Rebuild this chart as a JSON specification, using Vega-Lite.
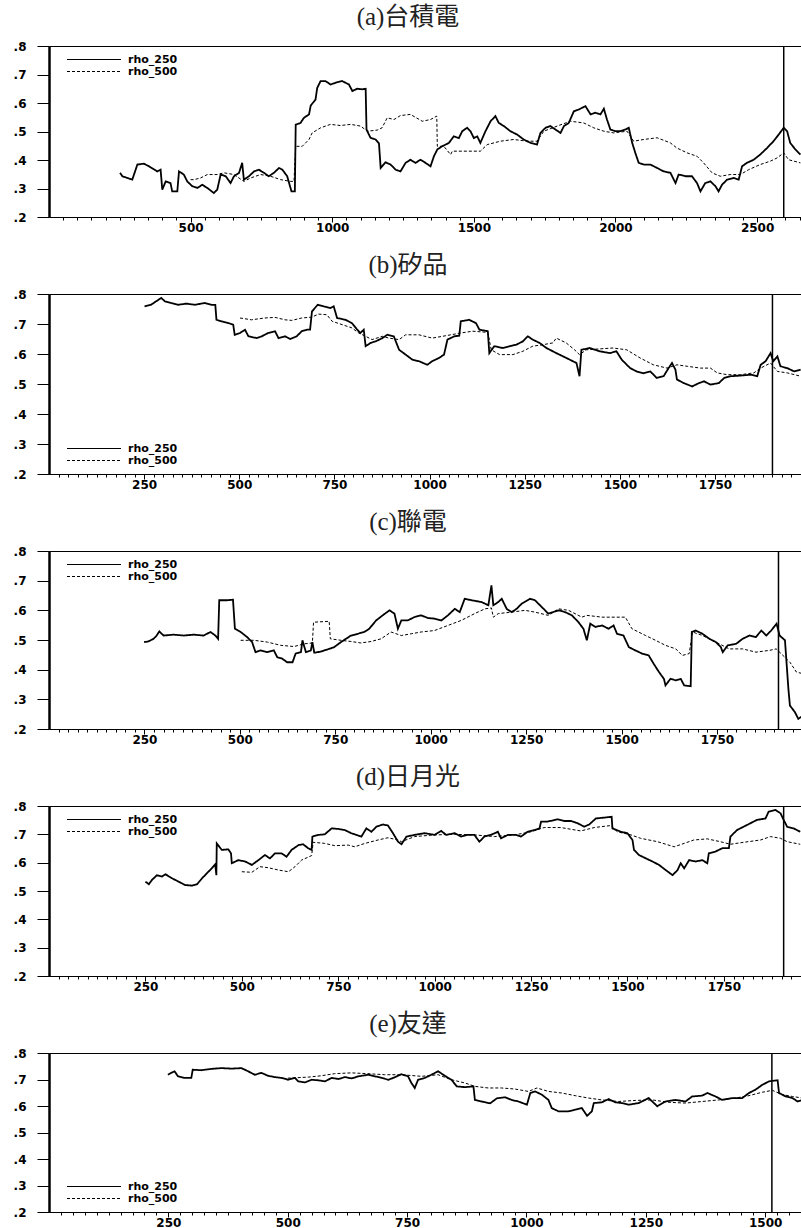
{
"$schema": "https://vega.github.io/schema/vega-lite/v6.json",
"padding": {"left": 0, "right": 0, "top": 4, "bottom": 0},
"spacing": 18,
"datasets": {
"vline": [{"p":"a","t":2594},{"p":"b","t":1901},{"p":"c","t":1911},{"p":"d","t":1905},{"p":"e","t":1514}],
"rho": [
{"p":"a","s":"rho_250","t":251,"v":0.355},{"p":"a","s":"rho_250","t":259,"v":0.343},{"p":"a","s":"rho_250","t":294,"v":0.331},{"p":"a","s":"rho_250","t":312,"v":0.384},{"p":"a","s":"rho_250","t":335,"v":0.387},{"p":"a","s":"rho_250","t":353,"v":0.378},{"p":"a","s":"rho_250","t":382,"v":0.36},{"p":"a","s":"rho_250","t":394,"v":0.366},{"p":"a","s":"rho_250","t":400,"v":0.296},{"p":"a","s":"rho_250","t":412,"v":0.325},{"p":"a","s":"rho_250","t":429,"v":0.319},{"p":"a","s":"rho_250","t":435,"v":0.29},{"p":"a","s":"rho_250","t":453,"v":0.29},{"p":"a","s":"rho_250","t":459,"v":0.36},{"p":"a","s":"rho_250","t":476,"v":0.349},{"p":"a","s":"rho_250","t":488,"v":0.325},{"p":"a","s":"rho_250","t":506,"v":0.308},{"p":"a","s":"rho_250","t":524,"v":0.302},{"p":"a","s":"rho_250","t":541,"v":0.313},{"p":"a","s":"rho_250","t":559,"v":0.302},{"p":"a","s":"rho_250","t":582,"v":0.284},{"p":"a","s":"rho_250","t":594,"v":0.296},{"p":"a","s":"rho_250","t":606,"v":0.349},{"p":"a","s":"rho_250","t":624,"v":0.343},{"p":"a","s":"rho_250","t":641,"v":0.319},{"p":"a","s":"rho_250","t":653,"v":0.343},{"p":"a","s":"rho_250","t":671,"v":0.355},{"p":"a","s":"rho_250","t":682,"v":0.39},{"p":"a","s":"rho_250","t":688,"v":0.331},{"p":"a","s":"rho_250","t":706,"v":0.343},{"p":"a","s":"rho_250","t":724,"v":0.36},{"p":"a","s":"rho_250","t":741,"v":0.366},{"p":"a","s":"rho_250","t":759,"v":0.355},{"p":"a","s":"rho_250","t":776,"v":0.343},{"p":"a","s":"rho_250","t":794,"v":0.355},{"p":"a","s":"rho_250","t":812,"v":0.372},{"p":"a","s":"rho_250","t":824,"v":0.366},{"p":"a","s":"rho_250","t":841,"v":0.343},{"p":"a","s":"rho_250","t":856,"v":0.29},{"p":"a","s":"rho_250","t":868,"v":0.29},{"p":"a","s":"rho_250","t":871,"v":0.524},{"p":"a","s":"rho_250","t":888,"v":0.53},{"p":"a","s":"rho_250","t":900,"v":0.548},{"p":"a","s":"rho_250","t":918,"v":0.56},{"p":"a","s":"rho_250","t":924,"v":0.591},{"p":"a","s":"rho_250","t":941,"v":0.612},{"p":"a","s":"rho_250","t":947,"v":0.653},{"p":"a","s":"rho_250","t":959,"v":0.677},{"p":"a","s":"rho_250","t":976,"v":0.677},{"p":"a","s":"rho_250","t":994,"v":0.665},{"p":"a","s":"rho_250","t":1018,"v":0.673},{"p":"a","s":"rho_250","t":1035,"v":0.677},{"p":"a","s":"rho_250","t":1059,"v":0.665},{"p":"a","s":"rho_250","t":1071,"v":0.642},{"p":"a","s":"rho_250","t":1088,"v":0.65},{"p":"a","s":"rho_250","t":1106,"v":0.648},{"p":"a","s":"rho_250","t":1118,"v":0.65},{"p":"a","s":"rho_250","t":1121,"v":0.507},{"p":"a","s":"rho_250","t":1135,"v":0.478},{"p":"a","s":"rho_250","t":1153,"v":0.472},{"p":"a","s":"rho_250","t":1165,"v":0.458},{"p":"a","s":"rho_250","t":1171,"v":0.372},{"p":"a","s":"rho_250","t":1188,"v":0.392},{"p":"a","s":"rho_250","t":1206,"v":0.384},{"p":"a","s":"rho_250","t":1224,"v":0.366},{"p":"a","s":"rho_250","t":1241,"v":0.36},{"p":"a","s":"rho_250","t":1259,"v":0.39},{"p":"a","s":"rho_250","t":1276,"v":0.401},{"p":"a","s":"rho_250","t":1294,"v":0.39},{"p":"a","s":"rho_250","t":1312,"v":0.401},{"p":"a","s":"rho_250","t":1329,"v":0.39},{"p":"a","s":"rho_250","t":1347,"v":0.378},{"p":"a","s":"rho_250","t":1359,"v":0.413},{"p":"a","s":"rho_250","t":1371,"v":0.437},{"p":"a","s":"rho_250","t":1388,"v":0.448},{"p":"a","s":"rho_250","t":1412,"v":0.46},{"p":"a","s":"rho_250","t":1429,"v":0.483},{"p":"a","s":"rho_250","t":1447,"v":0.477},{"p":"a","s":"rho_250","t":1459,"v":0.501},{"p":"a","s":"rho_250","t":1476,"v":0.513},{"p":"a","s":"rho_250","t":1488,"v":0.501},{"p":"a","s":"rho_250","t":1500,"v":0.477},{"p":"a","s":"rho_250","t":1512,"v":0.483},{"p":"a","s":"rho_250","t":1523,"v":0.46},{"p":"a","s":"rho_250","t":1541,"v":0.501},{"p":"a","s":"rho_250","t":1559,"v":0.536},{"p":"a","s":"rho_250","t":1576,"v":0.554},{"p":"a","s":"rho_250","t":1588,"v":0.53},{"p":"a","s":"rho_250","t":1606,"v":0.519},{"p":"a","s":"rho_250","t":1629,"v":0.501},{"p":"a","s":"rho_250","t":1653,"v":0.489},{"p":"a","s":"rho_250","t":1676,"v":0.472},{"p":"a","s":"rho_250","t":1700,"v":0.46},{"p":"a","s":"rho_250","t":1723,"v":0.454},{"p":"a","s":"rho_250","t":1735,"v":0.495},{"p":"a","s":"rho_250","t":1753,"v":0.513},{"p":"a","s":"rho_250","t":1770,"v":0.519},{"p":"a","s":"rho_250","t":1788,"v":0.507},{"p":"a","s":"rho_250","t":1806,"v":0.495},{"p":"a","s":"rho_250","t":1818,"v":0.519},{"p":"a","s":"rho_250","t":1835,"v":0.53},{"p":"a","s":"rho_250","t":1853,"v":0.571},{"p":"a","s":"rho_250","t":1870,"v":0.577},{"p":"a","s":"rho_250","t":1894,"v":0.589},{"p":"a","s":"rho_250","t":1912,"v":0.56},{"p":"a","s":"rho_250","t":1929,"v":0.566},{"p":"a","s":"rho_250","t":1947,"v":0.56},{"p":"a","s":"rho_250","t":1959,"v":0.58},{"p":"a","s":"rho_250","t":1970,"v":0.542},{"p":"a","s":"rho_250","t":1982,"v":0.507},{"p":"a","s":"rho_250","t":2000,"v":0.501},{"p":"a","s":"rho_250","t":2017,"v":0.501},{"p":"a","s":"rho_250","t":2035,"v":0.507},{"p":"a","s":"rho_250","t":2047,"v":0.513},{"p":"a","s":"rho_250","t":2059,"v":0.46},{"p":"a","s":"rho_250","t":2070,"v":0.425},{"p":"a","s":"rho_250","t":2082,"v":0.39},{"p":"a","s":"rho_250","t":2100,"v":0.384},{"p":"a","s":"rho_250","t":2123,"v":0.384},{"p":"a","s":"rho_250","t":2147,"v":0.372},{"p":"a","s":"rho_250","t":2170,"v":0.36},{"p":"a","s":"rho_250","t":2194,"v":0.355},{"p":"a","s":"rho_250","t":2212,"v":0.319},{"p":"a","s":"rho_250","t":2223,"v":0.349},{"p":"a","s":"rho_250","t":2247,"v":0.343},{"p":"a","s":"rho_250","t":2270,"v":0.343},{"p":"a","s":"rho_250","t":2288,"v":0.319},{"p":"a","s":"rho_250","t":2300,"v":0.29},{"p":"a","s":"rho_250","t":2317,"v":0.319},{"p":"a","s":"rho_250","t":2335,"v":0.325},{"p":"a","s":"rho_250","t":2353,"v":0.308},{"p":"a","s":"rho_250","t":2364,"v":0.29},{"p":"a","s":"rho_250","t":2376,"v":0.313},{"p":"a","s":"rho_250","t":2394,"v":0.331},{"p":"a","s":"rho_250","t":2417,"v":0.337},{"p":"a","s":"rho_250","t":2435,"v":0.331},{"p":"a","s":"rho_250","t":2447,"v":0.378},{"p":"a","s":"rho_250","t":2464,"v":0.39},{"p":"a","s":"rho_250","t":2488,"v":0.401},{"p":"a","s":"rho_250","t":2511,"v":0.419},{"p":"a","s":"rho_250","t":2535,"v":0.442},{"p":"a","s":"rho_250","t":2558,"v":0.466},{"p":"a","s":"rho_250","t":2576,"v":0.489},{"p":"a","s":"rho_250","t":2594,"v":0.513},{"p":"a","s":"rho_250","t":2606,"v":0.501},{"p":"a","s":"rho_250","t":2617,"v":0.46},{"p":"a","s":"rho_250","t":2635,"v":0.437},{"p":"a","s":"rho_250","t":2653,"v":0.419},
{"p":"a","s":"rho_500","t":500,"v":0.331},{"p":"a","s":"rho_500","t":512,"v":0.331},{"p":"a","s":"rho_500","t":535,"v":0.337},{"p":"a","s":"rho_500","t":559,"v":0.349},{"p":"a","s":"rho_500","t":594,"v":0.349},{"p":"a","s":"rho_500","t":618,"v":0.355},{"p":"a","s":"rho_500","t":653,"v":0.349},{"p":"a","s":"rho_500","t":688,"v":0.325},{"p":"a","s":"rho_500","t":712,"v":0.337},{"p":"a","s":"rho_500","t":747,"v":0.349},{"p":"a","s":"rho_500","t":782,"v":0.343},{"p":"a","s":"rho_500","t":818,"v":0.331},{"p":"a","s":"rho_500","t":853,"v":0.325},{"p":"a","s":"rho_500","t":865,"v":0.325},{"p":"a","s":"rho_500","t":871,"v":0.448},{"p":"a","s":"rho_500","t":894,"v":0.448},{"p":"a","s":"rho_500","t":918,"v":0.472},{"p":"a","s":"rho_500","t":929,"v":0.495},{"p":"a","s":"rho_500","t":959,"v":0.513},{"p":"a","s":"rho_500","t":994,"v":0.525},{"p":"a","s":"rho_500","t":1029,"v":0.521},{"p":"a","s":"rho_500","t":1065,"v":0.525},{"p":"a","s":"rho_500","t":1100,"v":0.519},{"p":"a","s":"rho_500","t":1124,"v":0.501},{"p":"a","s":"rho_500","t":1159,"v":0.505},{"p":"a","s":"rho_500","t":1176,"v":0.513},{"p":"a","s":"rho_500","t":1194,"v":0.548},{"p":"a","s":"rho_500","t":1218,"v":0.542},{"p":"a","s":"rho_500","t":1241,"v":0.556},{"p":"a","s":"rho_500","t":1276,"v":0.56},{"p":"a","s":"rho_500","t":1318,"v":0.536},{"p":"a","s":"rho_500","t":1347,"v":0.542},{"p":"a","s":"rho_500","t":1369,"v":0.554},{"p":"a","s":"rho_500","t":1371,"v":0.448},{"p":"a","s":"rho_500","t":1394,"v":0.448},{"p":"a","s":"rho_500","t":1418,"v":0.419},{"p":"a","s":"rho_500","t":1424,"v":0.431},{"p":"a","s":"rho_500","t":1476,"v":0.431},{"p":"a","s":"rho_500","t":1523,"v":0.431},{"p":"a","s":"rho_500","t":1547,"v":0.454},{"p":"a","s":"rho_500","t":1594,"v":0.466},{"p":"a","s":"rho_500","t":1641,"v":0.472},{"p":"a","s":"rho_500","t":1688,"v":0.466},{"p":"a","s":"rho_500","t":1723,"v":0.466},{"p":"a","s":"rho_500","t":1747,"v":0.501},{"p":"a","s":"rho_500","t":1794,"v":0.519},{"p":"a","s":"rho_500","t":1841,"v":0.536},{"p":"a","s":"rho_500","t":1888,"v":0.53},{"p":"a","s":"rho_500","t":1923,"v":0.513},{"p":"a","s":"rho_500","t":1959,"v":0.501},{"p":"a","s":"rho_500","t":1994,"v":0.495},{"p":"a","s":"rho_500","t":2041,"v":0.501},{"p":"a","s":"rho_500","t":2064,"v":0.466},{"p":"a","s":"rho_500","t":2100,"v":0.472},{"p":"a","s":"rho_500","t":2147,"v":0.478},{"p":"a","s":"rho_500","t":2194,"v":0.46},{"p":"a","s":"rho_500","t":2217,"v":0.442},{"p":"a","s":"rho_500","t":2253,"v":0.425},{"p":"a","s":"rho_500","t":2288,"v":0.413},{"p":"a","s":"rho_500","t":2311,"v":0.39},{"p":"a","s":"rho_500","t":2341,"v":0.355},{"p":"a","s":"rho_500","t":2370,"v":0.343},{"p":"a","s":"rho_500","t":2405,"v":0.349},{"p":"a","s":"rho_500","t":2441,"v":0.349},{"p":"a","s":"rho_500","t":2470,"v":0.366},{"p":"a","s":"rho_500","t":2511,"v":0.384},{"p":"a","s":"rho_500","t":2547,"v":0.396},{"p":"a","s":"rho_500","t":2570,"v":0.407},{"p":"a","s":"rho_500","t":2594,"v":0.425},{"p":"a","s":"rho_500","t":2611,"v":0.401},{"p":"a","s":"rho_500","t":2653,"v":0.39},
{"p":"b","s":"rho_250","t":251,"v":0.759},{"p":"b","s":"rho_250","t":268,"v":0.764},{"p":"b","s":"rho_250","t":282,"v":0.776},{"p":"b","s":"rho_250","t":295,"v":0.787},{"p":"b","s":"rho_250","t":304,"v":0.776},{"p":"b","s":"rho_250","t":321,"v":0.77},{"p":"b","s":"rho_250","t":339,"v":0.764},{"p":"b","s":"rho_250","t":361,"v":0.768},{"p":"b","s":"rho_250","t":383,"v":0.764},{"p":"b","s":"rho_250","t":409,"v":0.77},{"p":"b","s":"rho_250","t":427,"v":0.764},{"p":"b","s":"rho_250","t":437,"v":0.764},{"p":"b","s":"rho_250","t":440,"v":0.714},{"p":"b","s":"rho_250","t":453,"v":0.709},{"p":"b","s":"rho_250","t":471,"v":0.703},{"p":"b","s":"rho_250","t":484,"v":0.698},{"p":"b","s":"rho_250","t":488,"v":0.664},{"p":"b","s":"rho_250","t":502,"v":0.67},{"p":"b","s":"rho_250","t":515,"v":0.681},{"p":"b","s":"rho_250","t":524,"v":0.659},{"p":"b","s":"rho_250","t":546,"v":0.653},{"p":"b","s":"rho_250","t":559,"v":0.659},{"p":"b","s":"rho_250","t":576,"v":0.67},{"p":"b","s":"rho_250","t":594,"v":0.676},{"p":"b","s":"rho_250","t":603,"v":0.653},{"p":"b","s":"rho_250","t":620,"v":0.659},{"p":"b","s":"rho_250","t":634,"v":0.65},{"p":"b","s":"rho_250","t":651,"v":0.659},{"p":"b","s":"rho_250","t":664,"v":0.676},{"p":"b","s":"rho_250","t":678,"v":0.681},{"p":"b","s":"rho_250","t":686,"v":0.681},{"p":"b","s":"rho_250","t":691,"v":0.742},{"p":"b","s":"rho_250","t":706,"v":0.764},{"p":"b","s":"rho_250","t":722,"v":0.759},{"p":"b","s":"rho_250","t":739,"v":0.753},{"p":"b","s":"rho_250","t":748,"v":0.759},{"p":"b","s":"rho_250","t":757,"v":0.72},{"p":"b","s":"rho_250","t":779,"v":0.714},{"p":"b","s":"rho_250","t":796,"v":0.703},{"p":"b","s":"rho_250","t":810,"v":0.681},{"p":"b","s":"rho_250","t":818,"v":0.67},{"p":"b","s":"rho_250","t":827,"v":0.681},{"p":"b","s":"rho_250","t":832,"v":0.626},{"p":"b","s":"rho_250","t":845,"v":0.637},{"p":"b","s":"rho_250","t":858,"v":0.642},{"p":"b","s":"rho_250","t":876,"v":0.653},{"p":"b","s":"rho_250","t":889,"v":0.664},{"p":"b","s":"rho_250","t":906,"v":0.659},{"p":"b","s":"rho_250","t":920,"v":0.614},{"p":"b","s":"rho_250","t":937,"v":0.598},{"p":"b","s":"rho_250","t":955,"v":0.581},{"p":"b","s":"rho_250","t":972,"v":0.576},{"p":"b","s":"rho_250","t":994,"v":0.564},{"p":"b","s":"rho_250","t":1007,"v":0.576},{"p":"b","s":"rho_250","t":1025,"v":0.587},{"p":"b","s":"rho_250","t":1038,"v":0.598},{"p":"b","s":"rho_250","t":1047,"v":0.648},{"p":"b","s":"rho_250","t":1065,"v":0.659},{"p":"b","s":"rho_250","t":1078,"v":0.661},{"p":"b","s":"rho_250","t":1082,"v":0.709},{"p":"b","s":"rho_250","t":1104,"v":0.714},{"p":"b","s":"rho_250","t":1122,"v":0.703},{"p":"b","s":"rho_250","t":1131,"v":0.681},{"p":"b","s":"rho_250","t":1153,"v":0.676},{"p":"b","s":"rho_250","t":1157,"v":0.603},{"p":"b","s":"rho_250","t":1170,"v":0.626},{"p":"b","s":"rho_250","t":1192,"v":0.62},{"p":"b","s":"rho_250","t":1210,"v":0.626},{"p":"b","s":"rho_250","t":1228,"v":0.631},{"p":"b","s":"rho_250","t":1245,"v":0.642},{"p":"b","s":"rho_250","t":1258,"v":0.659},{"p":"b","s":"rho_250","t":1271,"v":0.648},{"p":"b","s":"rho_250","t":1289,"v":0.637},{"p":"b","s":"rho_250","t":1307,"v":0.62},{"p":"b","s":"rho_250","t":1333,"v":0.603},{"p":"b","s":"rho_250","t":1359,"v":0.587},{"p":"b","s":"rho_250","t":1386,"v":0.57},{"p":"b","s":"rho_250","t":1394,"v":0.526},{"p":"b","s":"rho_250","t":1399,"v":0.614},{"p":"b","s":"rho_250","t":1421,"v":0.62},{"p":"b","s":"rho_250","t":1447,"v":0.609},{"p":"b","s":"rho_250","t":1474,"v":0.603},{"p":"b","s":"rho_250","t":1491,"v":0.609},{"p":"b","s":"rho_250","t":1505,"v":0.581},{"p":"b","s":"rho_250","t":1527,"v":0.553},{"p":"b","s":"rho_250","t":1544,"v":0.542},{"p":"b","s":"rho_250","t":1562,"v":0.536},{"p":"b","s":"rho_250","t":1580,"v":0.542},{"p":"b","s":"rho_250","t":1597,"v":0.52},{"p":"b","s":"rho_250","t":1615,"v":0.526},{"p":"b","s":"rho_250","t":1628,"v":0.553},{"p":"b","s":"rho_250","t":1637,"v":0.57},{"p":"b","s":"rho_250","t":1646,"v":0.548},{"p":"b","s":"rho_250","t":1650,"v":0.515},{"p":"b","s":"rho_250","t":1668,"v":0.503},{"p":"b","s":"rho_250","t":1690,"v":0.492},{"p":"b","s":"rho_250","t":1708,"v":0.503},{"p":"b","s":"rho_250","t":1721,"v":0.509},{"p":"b","s":"rho_250","t":1738,"v":0.498},{"p":"b","s":"rho_250","t":1760,"v":0.503},{"p":"b","s":"rho_250","t":1774,"v":0.52},{"p":"b","s":"rho_250","t":1791,"v":0.526},{"p":"b","s":"rho_250","t":1817,"v":0.528},{"p":"b","s":"rho_250","t":1844,"v":0.531},{"p":"b","s":"rho_250","t":1861,"v":0.526},{"p":"b","s":"rho_250","t":1870,"v":0.564},{"p":"b","s":"rho_250","t":1883,"v":0.576},{"p":"b","s":"rho_250","t":1896,"v":0.603},{"p":"b","s":"rho_250","t":1903,"v":0.576},{"p":"b","s":"rho_250","t":1914,"v":0.592},{"p":"b","s":"rho_250","t":1922,"v":0.559},{"p":"b","s":"rho_250","t":1940,"v":0.553},{"p":"b","s":"rho_250","t":1958,"v":0.542},{"p":"b","s":"rho_250","t":1975,"v":0.548},
{"p":"b","s":"rho_500","t":502,"v":0.72},{"p":"b","s":"rho_500","t":532,"v":0.714},{"p":"b","s":"rho_500","t":567,"v":0.72},{"p":"b","s":"rho_500","t":594,"v":0.722},{"p":"b","s":"rho_500","t":620,"v":0.714},{"p":"b","s":"rho_500","t":638,"v":0.712},{"p":"b","s":"rho_500","t":664,"v":0.72},{"p":"b","s":"rho_500","t":691,"v":0.723},{"p":"b","s":"rho_500","t":708,"v":0.733},{"p":"b","s":"rho_500","t":730,"v":0.731},{"p":"b","s":"rho_500","t":744,"v":0.709},{"p":"b","s":"rho_500","t":770,"v":0.698},{"p":"b","s":"rho_500","t":796,"v":0.687},{"p":"b","s":"rho_500","t":814,"v":0.67},{"p":"b","s":"rho_500","t":832,"v":0.659},{"p":"b","s":"rho_500","t":849,"v":0.648},{"p":"b","s":"rho_500","t":876,"v":0.659},{"p":"b","s":"rho_500","t":893,"v":0.653},{"p":"b","s":"rho_500","t":920,"v":0.648},{"p":"b","s":"rho_500","t":937,"v":0.664},{"p":"b","s":"rho_500","t":972,"v":0.664},{"p":"b","s":"rho_500","t":1007,"v":0.653},{"p":"b","s":"rho_500","t":1034,"v":0.659},{"p":"b","s":"rho_500","t":1056,"v":0.664},{"p":"b","s":"rho_500","t":1082,"v":0.67},{"p":"b","s":"rho_500","t":1113,"v":0.676},{"p":"b","s":"rho_500","t":1153,"v":0.672},{"p":"b","s":"rho_500","t":1162,"v":0.614},{"p":"b","s":"rho_500","t":1184,"v":0.598},{"p":"b","s":"rho_500","t":1219,"v":0.598},{"p":"b","s":"rho_500","t":1245,"v":0.609},{"p":"b","s":"rho_500","t":1271,"v":0.626},{"p":"b","s":"rho_500","t":1298,"v":0.631},{"p":"b","s":"rho_500","t":1324,"v":0.637},{"p":"b","s":"rho_500","t":1333,"v":0.653},{"p":"b","s":"rho_500","t":1359,"v":0.637},{"p":"b","s":"rho_500","t":1381,"v":0.614},{"p":"b","s":"rho_500","t":1394,"v":0.598},{"p":"b","s":"rho_500","t":1412,"v":0.614},{"p":"b","s":"rho_500","t":1447,"v":0.617},{"p":"b","s":"rho_500","t":1482,"v":0.62},{"p":"b","s":"rho_500","t":1518,"v":0.614},{"p":"b","s":"rho_500","t":1553,"v":0.587},{"p":"b","s":"rho_500","t":1588,"v":0.564},{"p":"b","s":"rho_500","t":1624,"v":0.553},{"p":"b","s":"rho_500","t":1650,"v":0.564},{"p":"b","s":"rho_500","t":1677,"v":0.559},{"p":"b","s":"rho_500","t":1712,"v":0.553},{"p":"b","s":"rho_500","t":1738,"v":0.553},{"p":"b","s":"rho_500","t":1756,"v":0.537},{"p":"b","s":"rho_500","t":1782,"v":0.531},{"p":"b","s":"rho_500","t":1817,"v":0.531},{"p":"b","s":"rho_500","t":1852,"v":0.537},{"p":"b","s":"rho_500","t":1870,"v":0.553},{"p":"b","s":"rho_500","t":1896,"v":0.57},{"p":"b","s":"rho_500","t":1914,"v":0.542},{"p":"b","s":"rho_500","t":1940,"v":0.537},{"p":"b","s":"rho_500","t":1975,"v":0.526},
{"p":"c","s":"rho_250","t":249,"v":0.493},{"p":"c","s":"rho_250","t":260,"v":0.495},{"p":"c","s":"rho_250","t":274,"v":0.504},{"p":"c","s":"rho_250","t":282,"v":0.515},{"p":"c","s":"rho_250","t":289,"v":0.529},{"p":"c","s":"rho_250","t":300,"v":0.515},{"p":"c","s":"rho_250","t":326,"v":0.518},{"p":"c","s":"rho_250","t":353,"v":0.515},{"p":"c","s":"rho_250","t":379,"v":0.518},{"p":"c","s":"rho_250","t":405,"v":0.515},{"p":"c","s":"rho_250","t":423,"v":0.527},{"p":"c","s":"rho_250","t":436,"v":0.515},{"p":"c","s":"rho_250","t":443,"v":0.504},{"p":"c","s":"rho_250","t":446,"v":0.634},{"p":"c","s":"rho_250","t":467,"v":0.634},{"p":"c","s":"rho_250","t":482,"v":0.636},{"p":"c","s":"rho_250","t":487,"v":0.538},{"p":"c","s":"rho_250","t":502,"v":0.527},{"p":"c","s":"rho_250","t":519,"v":0.51},{"p":"c","s":"rho_250","t":532,"v":0.493},{"p":"c","s":"rho_250","t":541,"v":0.459},{"p":"c","s":"rho_250","t":554,"v":0.465},{"p":"c","s":"rho_250","t":572,"v":0.459},{"p":"c","s":"rho_250","t":589,"v":0.465},{"p":"c","s":"rho_250","t":598,"v":0.442},{"p":"c","s":"rho_250","t":611,"v":0.437},{"p":"c","s":"rho_250","t":624,"v":0.425},{"p":"c","s":"rho_250","t":638,"v":0.425},{"p":"c","s":"rho_250","t":646,"v":0.454},{"p":"c","s":"rho_250","t":660,"v":0.459},{"p":"c","s":"rho_250","t":664,"v":0.499},{"p":"c","s":"rho_250","t":673,"v":0.459},{"p":"c","s":"rho_250","t":686,"v":0.465},{"p":"c","s":"rho_250","t":690,"v":0.493},{"p":"c","s":"rho_250","t":695,"v":0.457},{"p":"c","s":"rho_250","t":712,"v":0.461},{"p":"c","s":"rho_250","t":734,"v":0.47},{"p":"c","s":"rho_250","t":747,"v":0.476},{"p":"c","s":"rho_250","t":765,"v":0.493},{"p":"c","s":"rho_250","t":791,"v":0.515},{"p":"c","s":"rho_250","t":809,"v":0.521},{"p":"c","s":"rho_250","t":826,"v":0.527},{"p":"c","s":"rho_250","t":839,"v":0.538},{"p":"c","s":"rho_250","t":857,"v":0.566},{"p":"c","s":"rho_250","t":874,"v":0.583},{"p":"c","s":"rho_250","t":892,"v":0.6},{"p":"c","s":"rho_250","t":905,"v":0.589},{"p":"c","s":"rho_250","t":914,"v":0.538},{"p":"c","s":"rho_250","t":923,"v":0.566},{"p":"c","s":"rho_250","t":940,"v":0.566},{"p":"c","s":"rho_250","t":957,"v":0.577},{"p":"c","s":"rho_250","t":975,"v":0.583},{"p":"c","s":"rho_250","t":993,"v":0.574},{"p":"c","s":"rho_250","t":1010,"v":0.572},{"p":"c","s":"rho_250","t":1028,"v":0.566},{"p":"c","s":"rho_250","t":1045,"v":0.583},{"p":"c","s":"rho_250","t":1063,"v":0.605},{"p":"c","s":"rho_250","t":1076,"v":0.594},{"p":"c","s":"rho_250","t":1089,"v":0.639},{"p":"c","s":"rho_250","t":1107,"v":0.634},{"p":"c","s":"rho_250","t":1133,"v":0.628},{"p":"c","s":"rho_250","t":1151,"v":0.617},{"p":"c","s":"rho_250","t":1159,"v":0.684},{"p":"c","s":"rho_250","t":1164,"v":0.617},{"p":"c","s":"rho_250","t":1177,"v":0.628},{"p":"c","s":"rho_250","t":1186,"v":0.639},{"p":"c","s":"rho_250","t":1199,"v":0.605},{"p":"c","s":"rho_250","t":1212,"v":0.594},{"p":"c","s":"rho_250","t":1225,"v":0.605},{"p":"c","s":"rho_250","t":1238,"v":0.622},{"p":"c","s":"rho_250","t":1260,"v":0.639},{"p":"c","s":"rho_250","t":1273,"v":0.634},{"p":"c","s":"rho_250","t":1291,"v":0.611},{"p":"c","s":"rho_250","t":1308,"v":0.589},{"p":"c","s":"rho_250","t":1335,"v":0.6},{"p":"c","s":"rho_250","t":1352,"v":0.594},{"p":"c","s":"rho_250","t":1370,"v":0.583},{"p":"c","s":"rho_250","t":1387,"v":0.56},{"p":"c","s":"rho_250","t":1400,"v":0.538},{"p":"c","s":"rho_250","t":1409,"v":0.499},{"p":"c","s":"rho_250","t":1418,"v":0.555},{"p":"c","s":"rho_250","t":1431,"v":0.544},{"p":"c","s":"rho_250","t":1449,"v":0.549},{"p":"c","s":"rho_250","t":1466,"v":0.538},{"p":"c","s":"rho_250","t":1479,"v":0.549},{"p":"c","s":"rho_250","t":1488,"v":0.521},{"p":"c","s":"rho_250","t":1505,"v":0.515},{"p":"c","s":"rho_250","t":1519,"v":0.476},{"p":"c","s":"rho_250","t":1536,"v":0.465},{"p":"c","s":"rho_250","t":1554,"v":0.454},{"p":"c","s":"rho_250","t":1571,"v":0.448},{"p":"c","s":"rho_250","t":1584,"v":0.42},{"p":"c","s":"rho_250","t":1598,"v":0.392},{"p":"c","s":"rho_250","t":1611,"v":0.369},{"p":"c","s":"rho_250","t":1615,"v":0.347},{"p":"c","s":"rho_250","t":1628,"v":0.369},{"p":"c","s":"rho_250","t":1642,"v":0.364},{"p":"c","s":"rho_250","t":1655,"v":0.369},{"p":"c","s":"rho_250","t":1664,"v":0.347},{"p":"c","s":"rho_250","t":1681,"v":0.344},{"p":"c","s":"rho_250","t":1684,"v":0.527},{"p":"c","s":"rho_250","t":1694,"v":0.532},{"p":"c","s":"rho_250","t":1712,"v":0.521},{"p":"c","s":"rho_250","t":1730,"v":0.504},{"p":"c","s":"rho_250","t":1747,"v":0.493},{"p":"c","s":"rho_250","t":1760,"v":0.476},{"p":"c","s":"rho_250","t":1765,"v":0.459},{"p":"c","s":"rho_250","t":1778,"v":0.482},{"p":"c","s":"rho_250","t":1800,"v":0.487},{"p":"c","s":"rho_250","t":1817,"v":0.504},{"p":"c","s":"rho_250","t":1835,"v":0.515},{"p":"c","s":"rho_250","t":1852,"v":0.51},{"p":"c","s":"rho_250","t":1866,"v":0.532},{"p":"c","s":"rho_250","t":1879,"v":0.515},{"p":"c","s":"rho_250","t":1892,"v":0.532},{"p":"c","s":"rho_250","t":1906,"v":0.555},{"p":"c","s":"rho_250","t":1914,"v":0.515},{"p":"c","s":"rho_250","t":1928,"v":0.499},{"p":"c","s":"rho_250","t":1937,"v":0.335},{"p":"c","s":"rho_250","t":1941,"v":0.279},{"p":"c","s":"rho_250","t":1954,"v":0.257},{"p":"c","s":"rho_250","t":1963,"v":0.234},{"p":"c","s":"rho_250","t":1976,"v":0.246},
{"p":"c","s":"rho_500","t":502,"v":0.499},{"p":"c","s":"rho_500","t":537,"v":0.499},{"p":"c","s":"rho_500","t":572,"v":0.493},{"p":"c","s":"rho_500","t":607,"v":0.482},{"p":"c","s":"rho_500","t":642,"v":0.478},{"p":"c","s":"rho_500","t":668,"v":0.487},{"p":"c","s":"rho_500","t":690,"v":0.49},{"p":"c","s":"rho_500","t":693,"v":0.56},{"p":"c","s":"rho_500","t":734,"v":0.563},{"p":"c","s":"rho_500","t":737,"v":0.504},{"p":"c","s":"rho_500","t":765,"v":0.499},{"p":"c","s":"rho_500","t":791,"v":0.495},{"p":"c","s":"rho_500","t":817,"v":0.49},{"p":"c","s":"rho_500","t":844,"v":0.495},{"p":"c","s":"rho_500","t":870,"v":0.504},{"p":"c","s":"rho_500","t":896,"v":0.527},{"p":"c","s":"rho_500","t":923,"v":0.515},{"p":"c","s":"rho_500","t":949,"v":0.521},{"p":"c","s":"rho_500","t":975,"v":0.527},{"p":"c","s":"rho_500","t":1010,"v":0.532},{"p":"c","s":"rho_500","t":1045,"v":0.549},{"p":"c","s":"rho_500","t":1080,"v":0.566},{"p":"c","s":"rho_500","t":1115,"v":0.589},{"p":"c","s":"rho_500","t":1142,"v":0.605},{"p":"c","s":"rho_500","t":1159,"v":0.608},{"p":"c","s":"rho_500","t":1164,"v":0.577},{"p":"c","s":"rho_500","t":1177,"v":0.589},{"p":"c","s":"rho_500","t":1212,"v":0.594},{"p":"c","s":"rho_500","t":1247,"v":0.6},{"p":"c","s":"rho_500","t":1273,"v":0.594},{"p":"c","s":"rho_500","t":1308,"v":0.583},{"p":"c","s":"rho_500","t":1335,"v":0.605},{"p":"c","s":"rho_500","t":1361,"v":0.6},{"p":"c","s":"rho_500","t":1396,"v":0.577},{"p":"c","s":"rho_500","t":1409,"v":0.583},{"p":"c","s":"rho_500","t":1449,"v":0.577},{"p":"c","s":"rho_500","t":1484,"v":0.577},{"p":"c","s":"rho_500","t":1510,"v":0.577},{"p":"c","s":"rho_500","t":1527,"v":0.538},{"p":"c","s":"rho_500","t":1563,"v":0.515},{"p":"c","s":"rho_500","t":1589,"v":0.499},{"p":"c","s":"rho_500","t":1615,"v":0.482},{"p":"c","s":"rho_500","t":1642,"v":0.47},{"p":"c","s":"rho_500","t":1659,"v":0.448},{"p":"c","s":"rho_500","t":1677,"v":0.454},{"p":"c","s":"rho_500","t":1686,"v":0.527},{"p":"c","s":"rho_500","t":1712,"v":0.515},{"p":"c","s":"rho_500","t":1747,"v":0.493},{"p":"c","s":"rho_500","t":1782,"v":0.47},{"p":"c","s":"rho_500","t":1817,"v":0.47},{"p":"c","s":"rho_500","t":1852,"v":0.459},{"p":"c","s":"rho_500","t":1887,"v":0.465},{"p":"c","s":"rho_500","t":1905,"v":0.47},{"p":"c","s":"rho_500","t":1918,"v":0.454},{"p":"c","s":"rho_500","t":1941,"v":0.425},{"p":"c","s":"rho_500","t":1958,"v":0.392},{"p":"c","s":"rho_500","t":1976,"v":0.386},
{"p":"d","s":"rho_250","t":250,"v":0.533},{"p":"d","s":"rho_250","t":259,"v":0.524},{"p":"d","s":"rho_250","t":267,"v":0.539},{"p":"d","s":"rho_250","t":280,"v":0.556},{"p":"d","s":"rho_250","t":293,"v":0.551},{"p":"d","s":"rho_250","t":302,"v":0.559},{"p":"d","s":"rho_250","t":319,"v":0.545},{"p":"d","s":"rho_250","t":336,"v":0.533},{"p":"d","s":"rho_250","t":353,"v":0.521},{"p":"d","s":"rho_250","t":371,"v":0.519},{"p":"d","s":"rho_250","t":384,"v":0.524},{"p":"d","s":"rho_250","t":397,"v":0.545},{"p":"d","s":"rho_250","t":409,"v":0.562},{"p":"d","s":"rho_250","t":422,"v":0.58},{"p":"d","s":"rho_250","t":431,"v":0.594},{"p":"d","s":"rho_250","t":434,"v":0.556},{"p":"d","s":"rho_250","t":435,"v":0.668},{"p":"d","s":"rho_250","t":448,"v":0.645},{"p":"d","s":"rho_250","t":465,"v":0.647},{"p":"d","s":"rho_250","t":472,"v":0.633},{"p":"d","s":"rho_250","t":474,"v":0.598},{"p":"d","s":"rho_250","t":491,"v":0.609},{"p":"d","s":"rho_250","t":509,"v":0.604},{"p":"d","s":"rho_250","t":526,"v":0.592},{"p":"d","s":"rho_250","t":543,"v":0.609},{"p":"d","s":"rho_250","t":560,"v":0.627},{"p":"d","s":"rho_250","t":573,"v":0.615},{"p":"d","s":"rho_250","t":586,"v":0.633},{"p":"d","s":"rho_250","t":603,"v":0.633},{"p":"d","s":"rho_250","t":616,"v":0.621},{"p":"d","s":"rho_250","t":629,"v":0.645},{"p":"d","s":"rho_250","t":647,"v":0.662},{"p":"d","s":"rho_250","t":659,"v":0.665},{"p":"d","s":"rho_250","t":672,"v":0.651},{"p":"d","s":"rho_250","t":681,"v":0.645},{"p":"d","s":"rho_250","t":683,"v":0.692},{"p":"d","s":"rho_250","t":698,"v":0.698},{"p":"d","s":"rho_250","t":715,"v":0.7},{"p":"d","s":"rho_250","t":733,"v":0.721},{"p":"d","s":"rho_250","t":750,"v":0.719},{"p":"d","s":"rho_250","t":767,"v":0.715},{"p":"d","s":"rho_250","t":784,"v":0.704},{"p":"d","s":"rho_250","t":810,"v":0.692},{"p":"d","s":"rho_250","t":823,"v":0.721},{"p":"d","s":"rho_250","t":836,"v":0.709},{"p":"d","s":"rho_250","t":849,"v":0.727},{"p":"d","s":"rho_250","t":866,"v":0.735},{"p":"d","s":"rho_250","t":879,"v":0.731},{"p":"d","s":"rho_250","t":892,"v":0.704},{"p":"d","s":"rho_250","t":905,"v":0.674},{"p":"d","s":"rho_250","t":914,"v":0.665},{"p":"d","s":"rho_250","t":927,"v":0.692},{"p":"d","s":"rho_250","t":948,"v":0.698},{"p":"d","s":"rho_250","t":974,"v":0.704},{"p":"d","s":"rho_250","t":1000,"v":0.698},{"p":"d","s":"rho_250","t":1017,"v":0.712},{"p":"d","s":"rho_250","t":1030,"v":0.698},{"p":"d","s":"rho_250","t":1052,"v":0.704},{"p":"d","s":"rho_250","t":1069,"v":0.692},{"p":"d","s":"rho_250","t":1086,"v":0.698},{"p":"d","s":"rho_250","t":1103,"v":0.698},{"p":"d","s":"rho_250","t":1116,"v":0.674},{"p":"d","s":"rho_250","t":1129,"v":0.692},{"p":"d","s":"rho_250","t":1146,"v":0.698},{"p":"d","s":"rho_250","t":1164,"v":0.709},{"p":"d","s":"rho_250","t":1172,"v":0.686},{"p":"d","s":"rho_250","t":1190,"v":0.698},{"p":"d","s":"rho_250","t":1211,"v":0.698},{"p":"d","s":"rho_250","t":1224,"v":0.692},{"p":"d","s":"rho_250","t":1241,"v":0.709},{"p":"d","s":"rho_250","t":1259,"v":0.715},{"p":"d","s":"rho_250","t":1272,"v":0.721},{"p":"d","s":"rho_250","t":1276,"v":0.745},{"p":"d","s":"rho_250","t":1293,"v":0.745},{"p":"d","s":"rho_250","t":1319,"v":0.753},{"p":"d","s":"rho_250","t":1336,"v":0.747},{"p":"d","s":"rho_250","t":1354,"v":0.747},{"p":"d","s":"rho_250","t":1371,"v":0.739},{"p":"d","s":"rho_250","t":1388,"v":0.727},{"p":"d","s":"rho_250","t":1401,"v":0.735},{"p":"d","s":"rho_250","t":1418,"v":0.756},{"p":"d","s":"rho_250","t":1440,"v":0.759},{"p":"d","s":"rho_250","t":1459,"v":0.762},{"p":"d","s":"rho_250","t":1461,"v":0.721},{"p":"d","s":"rho_250","t":1483,"v":0.709},{"p":"d","s":"rho_250","t":1500,"v":0.704},{"p":"d","s":"rho_250","t":1513,"v":0.68},{"p":"d","s":"rho_250","t":1517,"v":0.645},{"p":"d","s":"rho_250","t":1530,"v":0.627},{"p":"d","s":"rho_250","t":1548,"v":0.615},{"p":"d","s":"rho_250","t":1565,"v":0.604},{"p":"d","s":"rho_250","t":1582,"v":0.592},{"p":"d","s":"rho_250","t":1599,"v":0.574},{"p":"d","s":"rho_250","t":1617,"v":0.556},{"p":"d","s":"rho_250","t":1630,"v":0.574},{"p":"d","s":"rho_250","t":1638,"v":0.598},{"p":"d","s":"rho_250","t":1647,"v":0.58},{"p":"d","s":"rho_250","t":1660,"v":0.609},{"p":"d","s":"rho_250","t":1677,"v":0.604},{"p":"d","s":"rho_250","t":1694,"v":0.609},{"p":"d","s":"rho_250","t":1707,"v":0.598},{"p":"d","s":"rho_250","t":1711,"v":0.633},{"p":"d","s":"rho_250","t":1728,"v":0.639},{"p":"d","s":"rho_250","t":1746,"v":0.651},{"p":"d","s":"rho_250","t":1763,"v":0.651},{"p":"d","s":"rho_250","t":1767,"v":0.692},{"p":"d","s":"rho_250","t":1784,"v":0.715},{"p":"d","s":"rho_250","t":1810,"v":0.733},{"p":"d","s":"rho_250","t":1836,"v":0.751},{"p":"d","s":"rho_250","t":1858,"v":0.756},{"p":"d","s":"rho_250","t":1866,"v":0.78},{"p":"d","s":"rho_250","t":1884,"v":0.786},{"p":"d","s":"rho_250","t":1897,"v":0.774},{"p":"d","s":"rho_250","t":1905,"v":0.751},{"p":"d","s":"rho_250","t":1914,"v":0.727},{"p":"d","s":"rho_250","t":1931,"v":0.721},{"p":"d","s":"rho_250","t":1948,"v":0.709},
{"p":"d","s":"rho_500","t":500,"v":0.568},{"p":"d","s":"rho_500","t":526,"v":0.566},{"p":"d","s":"rho_500","t":547,"v":0.586},{"p":"d","s":"rho_500","t":569,"v":0.582},{"p":"d","s":"rho_500","t":595,"v":0.574},{"p":"d","s":"rho_500","t":621,"v":0.568},{"p":"d","s":"rho_500","t":638,"v":0.586},{"p":"d","s":"rho_500","t":655,"v":0.609},{"p":"d","s":"rho_500","t":681,"v":0.625},{"p":"d","s":"rho_500","t":685,"v":0.672},{"p":"d","s":"rho_500","t":715,"v":0.668},{"p":"d","s":"rho_500","t":741,"v":0.66},{"p":"d","s":"rho_500","t":776,"v":0.662},{"p":"d","s":"rho_500","t":793,"v":0.656},{"p":"d","s":"rho_500","t":819,"v":0.668},{"p":"d","s":"rho_500","t":853,"v":0.68},{"p":"d","s":"rho_500","t":879,"v":0.688},{"p":"d","s":"rho_500","t":905,"v":0.68},{"p":"d","s":"rho_500","t":914,"v":0.674},{"p":"d","s":"rho_500","t":948,"v":0.692},{"p":"d","s":"rho_500","t":1000,"v":0.698},{"p":"d","s":"rho_500","t":1052,"v":0.7},{"p":"d","s":"rho_500","t":1103,"v":0.698},{"p":"d","s":"rho_500","t":1155,"v":0.692},{"p":"d","s":"rho_500","t":1207,"v":0.698},{"p":"d","s":"rho_500","t":1250,"v":0.709},{"p":"d","s":"rho_500","t":1284,"v":0.724},{"p":"d","s":"rho_500","t":1327,"v":0.724},{"p":"d","s":"rho_500","t":1379,"v":0.712},{"p":"d","s":"rho_500","t":1414,"v":0.724},{"p":"d","s":"rho_500","t":1457,"v":0.731},{"p":"d","s":"rho_500","t":1474,"v":0.709},{"p":"d","s":"rho_500","t":1509,"v":0.698},{"p":"d","s":"rho_500","t":1534,"v":0.686},{"p":"d","s":"rho_500","t":1578,"v":0.674},{"p":"d","s":"rho_500","t":1621,"v":0.656},{"p":"d","s":"rho_500","t":1647,"v":0.668},{"p":"d","s":"rho_500","t":1672,"v":0.68},{"p":"d","s":"rho_500","t":1707,"v":0.684},{"p":"d","s":"rho_500","t":1741,"v":0.674},{"p":"d","s":"rho_500","t":1767,"v":0.665},{"p":"d","s":"rho_500","t":1802,"v":0.672},{"p":"d","s":"rho_500","t":1845,"v":0.68},{"p":"d","s":"rho_500","t":1871,"v":0.692},{"p":"d","s":"rho_500","t":1897,"v":0.686},{"p":"d","s":"rho_500","t":1914,"v":0.674},{"p":"d","s":"rho_500","t":1948,"v":0.665},
{"p":"e","s":"rho_250","t":249,"v":0.718},{"p":"e","s":"rho_250","t":256,"v":0.725},{"p":"e","s":"rho_250","t":263,"v":0.731},{"p":"e","s":"rho_250","t":270,"v":0.712},{"p":"e","s":"rho_250","t":284,"v":0.706},{"p":"e","s":"rho_250","t":298,"v":0.706},{"p":"e","s":"rho_250","t":301,"v":0.737},{"p":"e","s":"rho_250","t":319,"v":0.735},{"p":"e","s":"rho_250","t":340,"v":0.74},{"p":"e","s":"rho_250","t":361,"v":0.743},{"p":"e","s":"rho_250","t":382,"v":0.741},{"p":"e","s":"rho_250","t":403,"v":0.743},{"p":"e","s":"rho_250","t":417,"v":0.731},{"p":"e","s":"rho_250","t":431,"v":0.718},{"p":"e","s":"rho_250","t":445,"v":0.725},{"p":"e","s":"rho_250","t":459,"v":0.714},{"p":"e","s":"rho_250","t":473,"v":0.709},{"p":"e","s":"rho_250","t":487,"v":0.706},{"p":"e","s":"rho_250","t":501,"v":0.699},{"p":"e","s":"rho_250","t":515,"v":0.706},{"p":"e","s":"rho_250","t":522,"v":0.693},{"p":"e","s":"rho_250","t":536,"v":0.689},{"p":"e","s":"rho_250","t":550,"v":0.699},{"p":"e","s":"rho_250","t":564,"v":0.697},{"p":"e","s":"rho_250","t":578,"v":0.693},{"p":"e","s":"rho_250","t":592,"v":0.706},{"p":"e","s":"rho_250","t":606,"v":0.702},{"p":"e","s":"rho_250","t":620,"v":0.709},{"p":"e","s":"rho_250","t":634,"v":0.704},{"p":"e","s":"rho_250","t":648,"v":0.712},{"p":"e","s":"rho_250","t":669,"v":0.718},{"p":"e","s":"rho_250","t":690,"v":0.709},{"p":"e","s":"rho_250","t":711,"v":0.699},{"p":"e","s":"rho_250","t":725,"v":0.709},{"p":"e","s":"rho_250","t":738,"v":0.72},{"p":"e","s":"rho_250","t":752,"v":0.712},{"p":"e","s":"rho_250","t":759,"v":0.687},{"p":"e","s":"rho_250","t":766,"v":0.668},{"p":"e","s":"rho_250","t":773,"v":0.699},{"p":"e","s":"rho_250","t":787,"v":0.706},{"p":"e","s":"rho_250","t":801,"v":0.718},{"p":"e","s":"rho_250","t":815,"v":0.731},{"p":"e","s":"rho_250","t":829,"v":0.714},{"p":"e","s":"rho_250","t":843,"v":0.699},{"p":"e","s":"rho_250","t":854,"v":0.674},{"p":"e","s":"rho_250","t":871,"v":0.671},{"p":"e","s":"rho_250","t":889,"v":0.674},{"p":"e","s":"rho_250","t":892,"v":0.623},{"p":"e","s":"rho_250","t":906,"v":0.617},{"p":"e","s":"rho_250","t":924,"v":0.61},{"p":"e","s":"rho_250","t":938,"v":0.629},{"p":"e","s":"rho_250","t":955,"v":0.633},{"p":"e","s":"rho_250","t":969,"v":0.623},{"p":"e","s":"rho_250","t":983,"v":0.617},{"p":"e","s":"rho_250","t":1001,"v":0.605},{"p":"e","s":"rho_250","t":1008,"v":0.649},{"p":"e","s":"rho_250","t":1018,"v":0.655},{"p":"e","s":"rho_250","t":1032,"v":0.643},{"p":"e","s":"rho_250","t":1046,"v":0.623},{"p":"e","s":"rho_250","t":1053,"v":0.592},{"p":"e","s":"rho_250","t":1067,"v":0.58},{"p":"e","s":"rho_250","t":1088,"v":0.58},{"p":"e","s":"rho_250","t":1102,"v":0.586},{"p":"e","s":"rho_250","t":1116,"v":0.592},{"p":"e","s":"rho_250","t":1127,"v":0.563},{"p":"e","s":"rho_250","t":1137,"v":0.58},{"p":"e","s":"rho_250","t":1141,"v":0.611},{"p":"e","s":"rho_250","t":1158,"v":0.614},{"p":"e","s":"rho_250","t":1172,"v":0.626},{"p":"e","s":"rho_250","t":1186,"v":0.614},{"p":"e","s":"rho_250","t":1200,"v":0.611},{"p":"e","s":"rho_250","t":1214,"v":0.605},{"p":"e","s":"rho_250","t":1235,"v":0.611},{"p":"e","s":"rho_250","t":1256,"v":0.63},{"p":"e","s":"rho_250","t":1274,"v":0.599},{"p":"e","s":"rho_250","t":1291,"v":0.617},{"p":"e","s":"rho_250","t":1312,"v":0.623},{"p":"e","s":"rho_250","t":1333,"v":0.617},{"p":"e","s":"rho_250","t":1347,"v":0.636},{"p":"e","s":"rho_250","t":1368,"v":0.639},{"p":"e","s":"rho_250","t":1379,"v":0.649},{"p":"e","s":"rho_250","t":1396,"v":0.636},{"p":"e","s":"rho_250","t":1410,"v":0.623},{"p":"e","s":"rho_250","t":1431,"v":0.63},{"p":"e","s":"rho_250","t":1452,"v":0.63},{"p":"e","s":"rho_250","t":1466,"v":0.649},{"p":"e","s":"rho_250","t":1480,"v":0.662},{"p":"e","s":"rho_250","t":1494,"v":0.68},{"p":"e","s":"rho_250","t":1508,"v":0.693},{"p":"e","s":"rho_250","t":1526,"v":0.697},{"p":"e","s":"rho_250","t":1529,"v":0.649},{"p":"e","s":"rho_250","t":1543,"v":0.636},{"p":"e","s":"rho_250","t":1557,"v":0.63},{"p":"e","s":"rho_250","t":1568,"v":0.617},{"p":"e","s":"rho_250","t":1578,"v":0.623},
{"p":"e","s":"rho_500","t":500,"v":0.705},{"p":"e","s":"rho_500","t":543,"v":0.709},{"p":"e","s":"rho_500","t":570,"v":0.714},{"p":"e","s":"rho_500","t":598,"v":0.722},{"p":"e","s":"rho_500","t":633,"v":0.725},{"p":"e","s":"rho_500","t":668,"v":0.722},{"p":"e","s":"rho_500","t":703,"v":0.718},{"p":"e","s":"rho_500","t":738,"v":0.718},{"p":"e","s":"rho_500","t":780,"v":0.712},{"p":"e","s":"rho_500","t":815,"v":0.718},{"p":"e","s":"rho_500","t":843,"v":0.699},{"p":"e","s":"rho_500","t":871,"v":0.687},{"p":"e","s":"rho_500","t":892,"v":0.674},{"p":"e","s":"rho_500","t":920,"v":0.668},{"p":"e","s":"rho_500","t":948,"v":0.668},{"p":"e","s":"rho_500","t":976,"v":0.664},{"p":"e","s":"rho_500","t":1004,"v":0.655},{"p":"e","s":"rho_500","t":1022,"v":0.668},{"p":"e","s":"rho_500","t":1046,"v":0.655},{"p":"e","s":"rho_500","t":1074,"v":0.649},{"p":"e","s":"rho_500","t":1102,"v":0.639},{"p":"e","s":"rho_500","t":1130,"v":0.63},{"p":"e","s":"rho_500","t":1158,"v":0.623},{"p":"e","s":"rho_500","t":1193,"v":0.617},{"p":"e","s":"rho_500","t":1228,"v":0.621},{"p":"e","s":"rho_500","t":1263,"v":0.623},{"p":"e","s":"rho_500","t":1298,"v":0.614},{"p":"e","s":"rho_500","t":1333,"v":0.611},{"p":"e","s":"rho_500","t":1368,"v":0.617},{"p":"e","s":"rho_500","t":1403,"v":0.623},{"p":"e","s":"rho_500","t":1438,"v":0.63},{"p":"e","s":"rho_500","t":1466,"v":0.639},{"p":"e","s":"rho_500","t":1494,"v":0.652},{"p":"e","s":"rho_500","t":1515,"v":0.659},{"p":"e","s":"rho_500","t":1536,"v":0.643},{"p":"e","s":"rho_500","t":1557,"v":0.636},{"p":"e","s":"rho_500","t":1578,"v":0.63}
]
},
"vconcat": [
{
"width": 752, "height": 171, "title": "(a)台積電",
"resolve": {"axis": {"x": "independent"}},
"layer": [
{"data": {"name": "rho"}, "transform": [{"filter": "datum.p === 'a'"}],
 "mark": {"type": "line", "clip": true, "color": "#000"},
 "encoding": {
  "x": {"field": "t", "type": "quantitative", "scale": {"domain": [0, 2655], "nice": false, "zero": false},
   "axis": {"title": null, "orient": "bottom", "values": [500,1000,1500,2000,2500], "format": "d", "tickSize": 5}},
  "y": {"field": "v", "type": "quantitative", "scale": {"domain": [0.2, 0.8], "nice": false, "zero": false},
   "axis": {"title": null, "values": [0.2,0.3,0.4,0.5,0.6,0.7,0.8], "labelExpr": "substring(format(datum.value, '.1f'), 1)"}},
  "strokeDash": {"field": "s", "type": "nominal", "scale": {"domain": ["rho_250","rho_500"], "range": [[1,0],[3,2]]}, "legend": {"orient": "top-left"}},
  "strokeWidth": {"condition": {"test": "datum.s === 'rho_250'", "value": 1.8}, "value": 1}
 }},
{"data": {"name": "vline"}, "transform": [{"filter": "datum.p === 'a'"}],
 "mark": {"type": "rule", "color": "#000", "strokeWidth": 1.5},
 "encoding": {"x": {"field": "t", "type": "quantitative",
   "axis": {"title": null, "orient": "bottom", "labels": false, "domain": false, "tickSize": 3, "values": [50,100,150,200,250,300,350,400,450,550,600,650,700,750,800,850,900,950,1050,1100,1150,1200,1250,1300,1350,1400,1450,1550,1600,1650,1700,1750,1800,1850,1900,1950,2050,2100,2150,2200,2250,2300,2350,2400,2450,2550,2600,2650]}}}}
]
},
{
"width": 752, "height": 180, "title": "(b)矽品",
"resolve": {"axis": {"x": "independent"}},
"layer": [
{"data": {"name": "rho"}, "transform": [{"filter": "datum.p === 'b'"}],
 "mark": {"type": "line", "clip": true, "color": "#000"},
 "encoding": {
  "x": {"field": "t", "type": "quantitative", "scale": {"domain": [0, 1976], "nice": false, "zero": false},
   "axis": {"title": null, "orient": "bottom", "values": [250,500,750,1000,1250,1500,1750], "format": "d", "tickSize": 5}},
  "y": {"field": "v", "type": "quantitative", "scale": {"domain": [0.2, 0.8], "nice": false, "zero": false},
   "axis": {"title": null, "values": [0.2,0.3,0.4,0.5,0.6,0.7,0.8], "labelExpr": "substring(format(datum.value, '.1f'), 1)"}},
  "strokeDash": {"field": "s", "type": "nominal", "scale": {"domain": ["rho_250","rho_500"], "range": [[1,0],[3,2]]}, "legend": {"orient": "bottom-left"}},
  "strokeWidth": {"condition": {"test": "datum.s === 'rho_250'", "value": 1.8}, "value": 1}
 }},
{"data": {"name": "vline"}, "transform": [{"filter": "datum.p === 'b'"}],
 "mark": {"type": "rule", "color": "#000", "strokeWidth": 1.5},
 "encoding": {"x": {"field": "t", "type": "quantitative",
   "axis": {"title": null, "orient": "bottom", "labels": false, "domain": false, "tickSize": 3, "values": [25,50,75,100,125,150,175,200,225,275,300,325,350,375,400,425,450,475,525,550,575,600,625,650,675,700,725,775,800,825,850,875,900,925,950,975,1025,1050,1075,1100,1125,1150,1175,1200,1225,1275,1300,1325,1350,1375,1400,1425,1450,1475,1525,1550,1575,1600,1625,1650,1675,1700,1725,1775,1800,1825,1850,1875,1900,1925,1950,1975]}}}}
]
},
{
"width": 752, "height": 178, "title": "(c)聯電",
"resolve": {"axis": {"x": "independent"}},
"layer": [
{"data": {"name": "rho"}, "transform": [{"filter": "datum.p === 'c'"}],
 "mark": {"type": "line", "clip": true, "color": "#000"},
 "encoding": {
  "x": {"field": "t", "type": "quantitative", "scale": {"domain": [0, 1970], "nice": false, "zero": false},
   "axis": {"title": null, "orient": "bottom", "values": [250,500,750,1000,1250,1500,1750], "format": "d", "tickSize": 5}},
  "y": {"field": "v", "type": "quantitative", "scale": {"domain": [0.2, 0.8], "nice": false, "zero": false},
   "axis": {"title": null, "values": [0.2,0.3,0.4,0.5,0.6,0.7,0.8], "labelExpr": "substring(format(datum.value, '.1f'), 1)"}},
  "strokeDash": {"field": "s", "type": "nominal", "scale": {"domain": ["rho_250","rho_500"], "range": [[1,0],[3,2]]}, "legend": {"orient": "top-left"}},
  "strokeWidth": {"condition": {"test": "datum.s === 'rho_250'", "value": 1.8}, "value": 1}
 }},
{"data": {"name": "vline"}, "transform": [{"filter": "datum.p === 'c'"}],
 "mark": {"type": "rule", "color": "#000", "strokeWidth": 1.5},
 "encoding": {"x": {"field": "t", "type": "quantitative",
   "axis": {"title": null, "orient": "bottom", "labels": false, "domain": false, "tickSize": 3, "values": [25,50,75,100,125,150,175,200,225,275,300,325,350,375,400,425,450,475,525,550,575,600,625,650,675,700,725,775,800,825,850,875,900,925,950,975,1025,1050,1075,1100,1125,1150,1175,1200,1225,1275,1300,1325,1350,1375,1400,1425,1450,1475,1525,1550,1575,1600,1625,1650,1675,1700,1725,1775,1800,1825,1850,1875,1900,1925,1950]}}}}
]
},
{
"width": 752, "height": 170, "title": "(d)日月光",
"resolve": {"axis": {"x": "independent"}},
"layer": [
{"data": {"name": "rho"}, "transform": [{"filter": "datum.p === 'd'"}],
 "mark": {"type": "line", "clip": true, "color": "#000"},
 "encoding": {
  "x": {"field": "t", "type": "quantitative", "scale": {"domain": [0, 1950], "nice": false, "zero": false},
   "axis": {"title": null, "orient": "bottom", "values": [250,500,750,1000,1250,1500,1750], "format": "d", "tickSize": 5}},
  "y": {"field": "v", "type": "quantitative", "scale": {"domain": [0.2, 0.8], "nice": false, "zero": false},
   "axis": {"title": null, "values": [0.2,0.3,0.4,0.5,0.6,0.7,0.8], "labelExpr": "substring(format(datum.value, '.1f'), 1)"}},
  "strokeDash": {"field": "s", "type": "nominal", "scale": {"domain": ["rho_250","rho_500"], "range": [[1,0],[3,2]]}, "legend": {"orient": "top-left"}},
  "strokeWidth": {"condition": {"test": "datum.s === 'rho_250'", "value": 1.8}, "value": 1}
 }},
{"data": {"name": "vline"}, "transform": [{"filter": "datum.p === 'd'"}],
 "mark": {"type": "rule", "color": "#000", "strokeWidth": 1.5},
 "encoding": {"x": {"field": "t", "type": "quantitative",
   "axis": {"title": null, "orient": "bottom", "labels": false, "domain": false, "tickSize": 3, "values": [25,50,75,100,125,150,175,200,225,275,300,325,350,375,400,425,450,475,525,550,575,600,625,650,675,700,725,775,800,825,850,875,900,925,950,975,1025,1050,1075,1100,1125,1150,1175,1200,1225,1275,1300,1325,1350,1375,1400,1425,1450,1475,1525,1550,1575,1600,1625,1650,1675,1700,1725,1775,1800,1825,1850,1875,1900,1925]}}}}
]
},
{
"width": 752, "height": 159, "title": "(e)友達",
"resolve": {"axis": {"x": "independent"}},
"layer": [
{"data": {"name": "rho"}, "transform": [{"filter": "datum.p === 'e'"}],
 "mark": {"type": "line", "clip": true, "color": "#000"},
 "encoding": {
  "x": {"field": "t", "type": "quantitative", "scale": {"domain": [0, 1575], "nice": false, "zero": false},
   "axis": {"title": null, "orient": "bottom", "values": [250,500,750,1000,1250,1500], "format": "d", "tickSize": 5}},
  "y": {"field": "v", "type": "quantitative", "scale": {"domain": [0.2, 0.8], "nice": false, "zero": false},
   "axis": {"title": null, "values": [0.2,0.3,0.4,0.5,0.6,0.7,0.8], "labelExpr": "substring(format(datum.value, '.1f'), 1)"}},
  "strokeDash": {"field": "s", "type": "nominal", "scale": {"domain": ["rho_250","rho_500"], "range": [[1,0],[3,2]]}, "legend": {"orient": "bottom-left"}},
  "strokeWidth": {"condition": {"test": "datum.s === 'rho_250'", "value": 1.8}, "value": 1}
 }},
{"data": {"name": "vline"}, "transform": [{"filter": "datum.p === 'e'"}],
 "mark": {"type": "rule", "color": "#000", "strokeWidth": 1.5},
 "encoding": {"x": {"field": "t", "type": "quantitative",
   "axis": {"title": null, "orient": "bottom", "labels": false, "domain": false, "tickSize": 3, "values": [25,50,75,100,125,150,175,200,225,275,300,325,350,375,400,425,450,475,525,550,575,600,625,650,675,700,725,775,800,825,850,875,900,925,950,975,1025,1050,1075,1100,1125,1150,1175,1200,1225,1275,1300,1325,1350,1375,1400,1425,1450,1475,1525,1550,1575]}}}}
]
}
],
"resolve": {"scale": {"x": "independent", "strokeDash": "independent"}, "legend": {"strokeDash": "independent"}},
"config": {
 "view": {"stroke": "#000", "strokeWidth": 1},
 "axis": {"grid": false, "labelFont": "DejaVu Sans", "labelFontWeight": "bold", "labelFontSize": 12, "labelColor": "#000", "tickColor": "#000", "domainColor": "#000", "labelFlush": false},
 "axisX": {"labelPadding": 0, "domainWidth": 1},
 "axisY": {"tickSize": 12, "labelPadding": 11, "domainWidth": 2.5, "minExtent": 48, "maxExtent": 48},
 "legend": {"title": null, "symbolType": "M1,0H13", "symbolSize": 81, "symbolStrokeWidth": 1, "symbolStrokeColor": "#000", "symbolFillColor": "transparent", "labelFont": "DejaVu Sans", "labelFontWeight": "bold", "labelFontSize": 11, "labelColor": "#000", "labelOffset": 60, "rowPadding": 0, "padding": 3, "offset": 5},
 "title": {"font": "Liberation Serif, Noto Sans CJK TC, serif", "fontSize": 25, "fontWeight": "normal", "color": "#222", "offset": 10, "frame": "group", "anchor": "middle", "dx": -17}
}
}
